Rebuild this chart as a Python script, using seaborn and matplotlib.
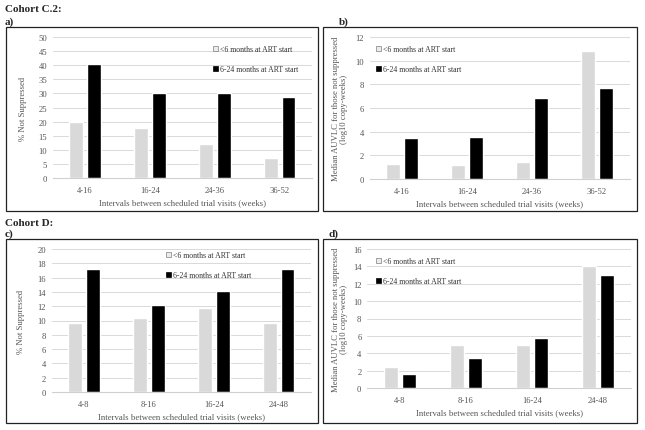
import matplotlib
matplotlib.use("Agg")
import matplotlib.pyplot as plt
import seaborn as sns
import pandas as pd
from matplotlib.patches import Patch, Rectangle

W, H = 645, 431

GROUPS = ["<6 months at ART start", "6-24 months at ART start"]
COLORS = ["#d9d9d9", "#000000"]

# cohort C.2
intervals_c2 = ["4-16", "16-24", "24-36", "36-52"]
pct_c2_young = [20.0, 17.8, 12.2, 7.2]
pct_c2_old = [40.3, 30.3, 30.1, 28.6]
auvlc_c2_young = [1.3, 1.15, 1.45, 10.8]
auvlc_c2_old = [3.45, 3.55, 6.85, 7.7]

# cohort D
intervals_d = ["4-8", "8-16", "16-24", "24-48"]
pct_d_young = [9.6, 10.3, 11.8, 9.7]
pct_d_old = [17.2, 12.1, 14.1, 17.2]
auvlc_d_young = [2.45, 5.0, 4.95, 14.0]
auvlc_d_old = [1.65, 3.4, 5.7, 13.0]

XLABEL = "Intervals between scheduled trial visits (weeks)"
YLABEL_PCT = "% Not Suppressed"
YLABEL_AUVLC = "Median AUVLC for those not suppressed\n(log10 copy-weeks)"

TEXT_GRAY = "#555555"


def make_frame(intervals, young, old):
    return pd.DataFrame({
        "interval": intervals * 2,
        "value": young + old,
        "group": [GROUPS[0]] * len(young) + [GROUPS[1]] * len(old),
    })


def px_axes(fig, left, top, right, bottom):
    return fig.add_axes([left / W, 1 - bottom / H, (right - left) / W, (bottom - top) / H])


def panel_box(fig, left, top, right, bottom):
    fig.patches.append(Rectangle((left / W, 1 - bottom / H), (right - left) / W, (bottom - top) / H,
                                 transform=fig.transFigure, fill=False, edgecolor="#222222",
                                 linewidth=0.9))


def draw_panel(fig, pos, data, ymax, ystep, ylabel, legend_xy, ylabel_x):
    ax = px_axes(fig, *pos)
    sns.barplot(data=data, x="interval", y="value", hue="group", hue_order=GROUPS,
                palette=COLORS, width=0.55, gap=0.22, ax=ax, legend=False,
                errorbar=None, saturation=1)
    ax.set_ylim(0, ymax)
    ax.set_yticks(range(0, ymax + 1, ystep))
    ax.set_xlim(-0.5, 3.5)
    ax.set_axisbelow(True)
    ax.grid(axis="y", color="#d9d9d9", linewidth=0.7)
    for s in ["top", "right", "left"]:
        ax.spines[s].set_visible(False)
    ax.spines["bottom"].set_color("#d0d0d0")
    ax.spines["bottom"].set_linewidth(0.8)
    ax.tick_params(length=0, labelsize=6.2, colors=TEXT_GRAY, pad=4)
    ax.tick_params(axis="x", pad=6)
    ax.set_xlabel(XLABEL, fontsize=6.3, color=TEXT_GRAY, labelpad=3)
    ax.set_ylabel("")
    fig.text(ylabel_x / W, 1 - ((pos[1] + pos[3]) / 2) / H, ylabel, rotation=90,
             ha="center", va="center", fontsize=6.2, color=TEXT_GRAY, linespacing=1.15)

    handles = [Patch(facecolor="#ececec", edgecolor="#7f7f7f", linewidth=0.5),
               Patch(facecolor=COLORS[1], edgecolor="#000000", linewidth=0.5)]
    ax.legend(handles, GROUPS, loc="upper left",
              bbox_to_anchor=(legend_xy[0] / W, 1 - legend_xy[1] / H),
              bbox_transform=fig.transFigure, frameon=False, fontsize=5.6,
              handlelength=0.6, handleheight=0.6, handletextpad=0.25,
              labelspacing=1.55, borderpad=0, borderaxespad=0, labelcolor="#333333")
    return ax


sns.set_theme(style="white")
plt.rcParams["font.family"] = ["Liberation Serif", "DejaVu Serif"]

fig = plt.figure(figsize=(W / 100, H / 100), dpi=100)

# outer panel frames
panel_box(fig, 6, 28, 318, 212)
panel_box(fig, 323, 28, 637, 212)
panel_box(fig, 6, 240, 318, 424)
panel_box(fig, 323, 240, 637, 424)

draw_panel(fig, (52.6, 38, 312, 179), make_frame(intervals_c2, pct_c2_young, pct_c2_old),
           50, 5, YLABEL_PCT, (213, 46), 23)
draw_panel(fig, (369.5, 38, 629.5, 180), make_frame(intervals_c2, auvlc_c2_young, auvlc_c2_old),
           12, 2, YLABEL_AUVLC, (376, 46), 340)
draw_panel(fig, (51.6, 250, 311, 393), make_frame(intervals_d, pct_d_young, pct_d_old),
           20, 2, YLABEL_PCT, (166, 252), 21)
draw_panel(fig, (367, 250, 631, 389), make_frame(intervals_d, auvlc_d_young, auvlc_d_old),
           16, 2, YLABEL_AUVLC, (376, 258), 340)

# cohort headings and panel letters
fig.text(5 / W, 1 - 9 / H, "Cohort C.2:", fontsize=8, fontweight="bold", va="center", ha="left")
fig.text(5 / W, 1 - 22 / H, "a)", fontsize=8, fontweight="bold", va="center", ha="left")
fig.text(339 / W, 1 - 22 / H, "b)", fontsize=8, fontweight="bold", va="center", ha="left")
fig.text(5 / W, 1 - 224 / H, "Cohort D:", fontsize=8, fontweight="bold", va="center", ha="left")
fig.text(5 / W, 1 - 234 / H, "c)", fontsize=8, fontweight="bold", va="center", ha="left")
fig.text(329 / W, 1 - 234 / H, "d)", fontsize=8, fontweight="bold", va="center", ha="left")

fig.savefig("out.png", dpi=100)
plt.close(fig)
